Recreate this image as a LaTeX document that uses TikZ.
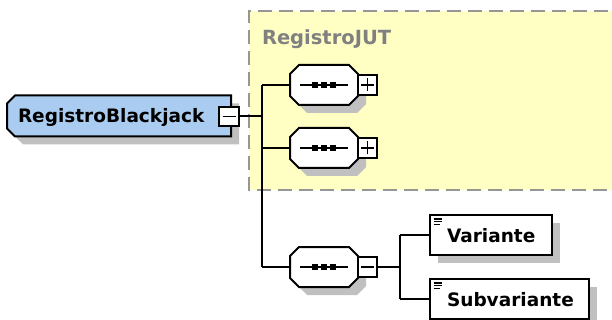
\documentclass[tikz,border=0pt]{standalone}
\usepackage{fontspec}
\setmainfont{DejaVu Sans}
\usetikzlibrary{calc}

\definecolor{elemblue}{RGB}{170,204,240}
\definecolor{grpyellow}{RGB}{255,255,196}
\definecolor{shadowgray}{RGB}{192,192,192}
\definecolor{dashgray}{RGB}{150,150,150}
\definecolor{labelgray}{RGB}{128,128,128}

% chamfered outline around a node; #2 = chamfer, #3 = offset (for the shadow)
\newcommand\octo[3]{%
  ($(#1.north west)+(#2+#3,#3)$) -- ($(#1.north east)+(-#2+#3,#3)$) --
  ($(#1.north east)+(#3,#2+#3)$) -- ($(#1.south east)+(#3,-#2+#3)$) --
  ($(#1.south east)+(-#2+#3,#3)$) -- ($(#1.south west)+(#2+#3,#3)$) --
  ($(#1.south west)+(#3,-#2+#3)$) -- ($(#1.north west)+(#3,#2+#3)$) -- cycle}
% outline with only the left corners chamfered
\newcommand\leftcham[3]{%
  ($(#1.north west)+(#2+#3,#3)$) -- ($(#1.north east)+(#3,#3)$) --
  ($(#1.south east)+(#3,#3)$) -- ($(#1.south west)+(#2+#3,#3)$) --
  ($(#1.south west)+(#3,-#2+#3)$) -- ($(#1.north west)+(#3,#2+#3)$) -- cycle}
% plain rectangle outline
\newcommand\rectout[2]{%
  ($(#1.north west)+(#2,#2)$) rectangle ($(#1.south east)+(#2,#2)$)}

\tikzset{
  geom/.style={inner sep=0pt, outer sep=0pt, minimum width=#1},
  frame/.style={draw=black, line width=2pt, line join=miter},
  wire/.style={draw=black, line width=2pt},
  shade/.style={fill=shadowgray},
  lbl/.style={inner sep=0pt, outer sep=0pt, anchor=base west,
    font=\fontsize{18.5}{20}\selectfont\bfseries},
  expander/.style={draw=black, fill=white, line width=1.7pt, inner sep=0pt,
    outer sep=0pt, minimum size=19.5pt},
  plusbox/.style={expander, path picture={
    \draw[line width=1.6pt] (path picture bounding box.center) +(-6.5,0) -- +(6.5,0)
      +(0,-6.5) -- +(0,6.5);}},
  minusbox/.style={expander, path picture={
    \draw[line width=1.6pt] (path picture bounding box.center) +(-6.5,0) -- +(6.5,0);}},
}

\begin{document}
\begin{tikzpicture}[x=1pt, y=-1pt]
\useasboundingbox (0,0) rectangle (612,320);
\clip (0,0) rectangle (612,320);

% model group area
\node[geom=380pt, minimum height=179pt, anchor=north west] (grp) at (249,11) {};
\fill[grpyellow] (grp.north west) rectangle (grp.south east);
\draw[dashgray, line width=2pt, dash pattern=on 14pt off 7pt]
  (grp.north east) -- (grp.north west) -- (grp.south west) -- (grp.south east);
\node[lbl, text=labelgray, font=\fontsize{19.5}{21}\selectfont\bfseries]
  (grptitle) at (262,45) {RegistroJUT};

% geometry of the boxes
\node[geom=224pt, minimum height=41pt] (rb) at (119,116) {};
\node[geom=68pt, minimum height=40pt] (s1) at (324,85) {};
\node[geom=68pt, minimum height=40pt] (s2) at (324,148) {};
\node[geom=68pt, minimum height=40pt] (s3) at (324,267) {};
\node[geom=122pt, minimum height=40pt] (var) at (491,235) {};
\node[geom=159pt, minimum height=40pt] (sub) at (509.5,299) {};

% shadows
\fill[shade] \leftcham{rb}{8}{8};
\fill[shade] \octo{s1}{9}{8};
\fill[shade] \octo{s2}{9}{8};
\fill[shade] \octo{s3}{9}{8};
\fill[shade] \rectout{var}{8};
\fill[shade] \rectout{sub}{8};

% boxes
\filldraw[frame, fill=elemblue] \leftcham{rb}{8}{0};
\filldraw[frame, fill=white] \octo{s1}{9}{0};
\filldraw[frame, fill=white] \octo{s2}{9}{0};
\filldraw[frame, fill=white] \octo{s3}{9}{0};
\filldraw[frame, fill=white] \rectout{var}{0};
\filldraw[frame, fill=white] \rectout{sub}{0};

% sequence compositor symbol
\foreach \s in {s1,s2,s3}{
  \draw[line width=1.7pt] ($(\s.west)+(10,0)$) -- ($(\s.east)+(-10,0)$);
  \foreach \dx in {-9,0,9}
    \fill ($(\s.center)+(\dx-3,-3)$) rectangle ++(6,6);
}

% simple content markers
\foreach \b in {var,sub}{
  \draw[line width=1.3pt] ($(\b.north west)+(3.5,4)$) -- ++(8,0)
    ($(\b.north west)+(3.5,6.8)$) -- ++(8,0)
    ($(\b.north west)+(3.5,9.6)$) -- ++(6,0);
}

% expand/collapse buttons
\node[minusbox] (rbm) at (229,116.5) {};
\node[plusbox] (s1p) at (367.5,85) {};
\node[plusbox] (s2p) at (367.5,148) {};
\node[minusbox] (s3m) at (367.5,267) {};

% connectors
\coordinate (spine) at (261.5,0);
\coordinate (fork) at (400,0);
\draw[wire] (rbm.east) -- (rbm.east -| spine);
\draw[wire] (s1.west -| spine) -- (s3.west -| spine);
\draw[wire] (s1.west -| spine) -- (s1.west);
\draw[wire] (s2.west -| spine) -- (s2.west);
\draw[wire] (s3.west -| spine) -- (s3.west);
\draw[wire] (s3m.east) -- (s3m.east -| fork);
\draw[wire] (var.west -| fork) -- (sub.west -| fork);
\draw[wire] (var.west -| fork) -- (var.west);
\draw[wire] (sub.west -| fork) -- (sub.west);

% names
\node[lbl] (rbt) at (18,123) {RegistroBlackjack};
\node[lbl] (vart) at (447,242) {Variante};
\node[lbl] (subt) at (447,306) {Subvariante};
\end{tikzpicture}
\end{document}
